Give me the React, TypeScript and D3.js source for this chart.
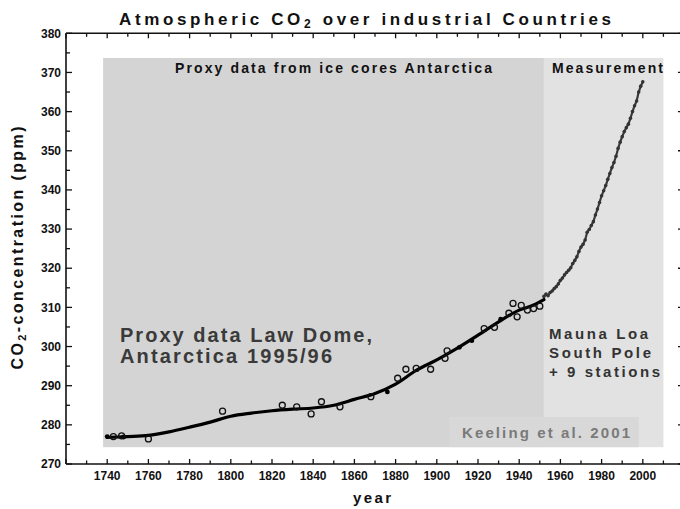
import React from 'react';
import * as d3 from 'd3';

// ---- data ----
const xTickLabels = [1740, 1760, 1780, 1800, 1820, 1840, 1860, 1880, 1900, 1920, 1940, 1960, 1980, 2000];
const yTickLabels = [270, 280, 290, 300, 310, 320, 330, 340, 350, 360, 370, 380];

// smoothed ice-core curve
const splineYears = [1740, 1750, 1760, 1770, 1780, 1790, 1800, 1810, 1820, 1830, 1840, 1850, 1860, 1870, 1880, 1890, 1900, 1910, 1920, 1930, 1940, 1947, 1952];
const splineCO2 = [276.8, 277.0, 277.3, 278.2, 279.4, 280.7, 282.2, 283.0, 283.6, 284.0, 284.3, 285.0, 286.5, 288.0, 290.4, 293.9, 296.6, 299.6, 302.9, 306.3, 309.3, 310.6, 312.0];

// Law Dome samples (open circles)
const coreYears = [1743, 1747, 1760, 1796, 1825, 1832, 1839, 1844, 1853, 1868, 1881, 1885, 1890, 1897, 1904, 1905, 1923, 1928, 1935, 1937, 1939, 1941, 1944, 1947, 1950];
const coreCO2 = [277.0, 277.2, 276.4, 283.5, 285.0, 284.6, 282.8, 285.9, 284.6, 287.2, 291.9, 294.2, 294.4, 294.2, 297.0, 298.9, 304.6, 304.9, 308.5, 311.0, 307.6, 310.5, 309.3, 309.7, 310.3];

// Law Dome filled points
const dotYears = [1740, 1748, 1876, 1911, 1917, 1931];
const dotCO2 = [277.0, 276.9, 288.4, 299.8, 301.5, 307.0];

// Measurements (Mauna Loa, South Pole + stations)
const measYears = [1952, 1953, 1954, 1955, 1956, 1957, 1958, 1959, 1960, 1961, 1962, 1963, 1964, 1965, 1966, 1967, 1968, 1969, 1970, 1971, 1972, 1973, 1974, 1975, 1976, 1977, 1978, 1979, 1980, 1981, 1982, 1983, 1984, 1985, 1986, 1987, 1988, 1989, 1990, 1991, 1992, 1993, 1994, 1995, 1996, 1997, 1998, 1999, 2000];
const measCO2 = [312.8, 313.4, 313.0, 313.8, 314.2, 314.8, 315.3, 316.0, 316.9, 317.5, 318.3, 318.9, 319.5, 320.1, 321.2, 322.0, 322.9, 324.3, 325.4, 326.1, 327.2, 329.2, 329.9, 330.9, 331.9, 333.6, 335.1, 336.8, 338.5, 339.8, 341.1, 342.7, 344.2, 345.7, 347.0, 348.6, 350.6, 352.2, 353.6, 354.9, 355.9, 356.8, 358.3, 360.0, 361.5, 362.7, 365.0, 366.5, 367.6];

// shaded regions (years / ppm)
const proxyRegion = [1738, 1952];
const measRegion = [1952, 2010];
const regionPPM = [274.3, 373.7];
const keelingBox = [1906, 1998, 274.3, 282];

const FONT = '"Liberation Sans", Arial, Helvetica, sans-serif';

export default function App() {
  const W = 680, H = 509;
  const x = d3.scaleLinear().domain([1720, 2020]).range([66, 684]);
  const y = d3.scaleLinear().domain([270, 380]).range([464, 33.3]);

  const splineLine = d3.line<number>()
    .x((_, i) => x(splineYears[i]))
    .y((d) => y(d))
    .curve(d3.curveMonotoneX);
  const measLine = d3.line<number>()
    .x((_, i) => x(measYears[i]))
    .y((d) => y(d));

  const xMinor = d3.range(1720, 2021, 10);
  const yMinor = d3.range(270, 381, 5);

  const left = x(1720), right = x(2020), top = y(380), bottom = y(270);

  return (
    <svg width={W} height={H} style={{ position: 'absolute', left: 0, top: 0, display: 'block', background: '#fff' }} fontFamily={FONT}>
      <rect x={0} y={0} width={W} height={H} fill="#fff" />
      {/* shaded regions */}
      <rect x={x(proxyRegion[0])} y={y(regionPPM[1])} width={x(proxyRegion[1]) - x(proxyRegion[0])} height={y(regionPPM[0]) - y(regionPPM[1])} fill="#d4d4d4" />
      <rect x={x(measRegion[0])} y={y(regionPPM[1])} width={x(measRegion[1]) - x(measRegion[0])} height={y(regionPPM[0]) - y(regionPPM[1])} fill="#e2e2e2" />
      <rect x={x(keelingBox[0])} y={y(keelingBox[3])} width={x(keelingBox[1]) - x(keelingBox[0])} height={y(keelingBox[2]) - y(keelingBox[3])} fill="#d8d8d8" />

      {/* frame */}
      <g stroke="#111" strokeWidth={1.6} fill="none">
        <line x1={left} y1={top} x2={right} y2={top} />
        <line x1={left} y1={bottom} x2={right} y2={bottom} />
        <line x1={left} y1={top} x2={left} y2={bottom} />
        <line x1={right} y1={top} x2={right} y2={bottom} />
      </g>
      {/* x ticks bottom & top */}
      <g stroke="#111" strokeWidth={1.3}>
        {xMinor.map((t) => {
          const major = (t - 1740) % 20 === 0;
          const len = major ? 5 : 3.5;
          return (
            <g key={t}>
              <line x1={x(t)} x2={x(t)} y1={bottom} y2={bottom - len} />
              <line x1={x(t)} x2={x(t)} y1={top} y2={top + len} />
            </g>
          );
        })}
        {yMinor.map((t) => {
          const major = t % 10 === 0;
          const len = major ? 6 : 4;
          return (
            <g key={t}>
              <line x1={left} x2={left + len} y1={y(t)} y2={y(t)} />
              <line x1={right} x2={right - len} y1={y(t)} y2={y(t)} />
            </g>
          );
        })}
      </g>
      {/* tick labels */}
      <g fontSize={12} fontWeight="bold" fill="#111">
        {xTickLabels.map((t) => (
          <text key={t} x={x(t)} y={480} textAnchor="middle">{t}</text>
        ))}
        {yTickLabels.map((t) => (
          <text key={t} x={61} y={y(t)} dy="0.35em" textAnchor="end">{t}</text>
        ))}
      </g>

      {/* smoothed ice-core line */}
      <path d={splineLine(splineCO2) || ''} fill="none" stroke="#000" strokeWidth={3.2} strokeLinejoin="round" strokeLinecap="round" />
      {dotCO2.map((v, i) => (
        <circle key={'d' + i} cx={x(dotYears[i])} cy={y(v)} r={2.4} fill="#000" />
      ))}
      {coreCO2.map((v, i) => (
        <circle key={'c' + i} cx={x(coreYears[i])} cy={y(v)} r={3} fill="none" stroke="#111" strokeWidth={1.3} />
      ))}
      {/* measurements */}
      <path d={measLine(measCO2) || ''} fill="none" stroke="#3a3a3a" strokeWidth={2.2} strokeLinejoin="round" />
      {measCO2.map((v, i) => (
        <circle key={'m' + i} cx={x(measYears[i])} cy={y(v)} r={1.8} fill="#333" />
      ))}

      {/* texts */}
      <text x={119} y={25} fontSize={17} fontWeight="bold" fill="#111" textLength={492} lengthAdjust="spacing">
        Atmospheric CO<tspan fontSize={12} dy={3}>2</tspan><tspan dy={-3}> over industrial Countries</tspan>
      </text>
      <text x={175} y={73} fontSize={14} fontWeight="bold" fill="#111" textLength={317} lengthAdjust="spacing">Proxy data from ice cores Antarctica</text>
      <text x={552} y={73} fontSize={14} fontWeight="bold" fill="#111" textLength={111} lengthAdjust="spacing">Measurement</text>
      <g fontSize={20} fontWeight="bold" fill="#3a3a3a">
        <text x={120} y={342} textLength={252} lengthAdjust="spacing">Proxy data Law Dome,</text>
        <text x={120} y={363} textLength={212} lengthAdjust="spacing">Antarctica 1995/96</text>
      </g>
      <g fontSize={15} fontWeight="bold" fill="#333">
        <text x={549} y={339} textLength={99} lengthAdjust="spacing">Mauna Loa</text>
        <text x={549} y={357.5} textLength={102} lengthAdjust="spacing">South Pole</text>
        <text x={549} y={377} textLength={111} lengthAdjust="spacing">+ 9 stations</text>
      </g>
      <text x={462} y={438} fontSize={15} fontWeight="bold" fill="#7a7a7a" textLength={168} lengthAdjust="spacing">Keeling et al. 2001</text>
      <text x={372} y={503} fontSize={15} fontWeight="bold" fill="#111" textAnchor="middle" textLength={38} lengthAdjust="spacing">year</text>
      <text transform="translate(23,248) rotate(-90)" fontSize={16} fontWeight="bold" fill="#111" textAnchor="middle" textLength={243} lengthAdjust="spacing">
        CO<tspan fontSize={11} dy={3}>2</tspan><tspan dy={-3}>-concentration (ppm)</tspan>
      </text>
    </svg>
  );
}
